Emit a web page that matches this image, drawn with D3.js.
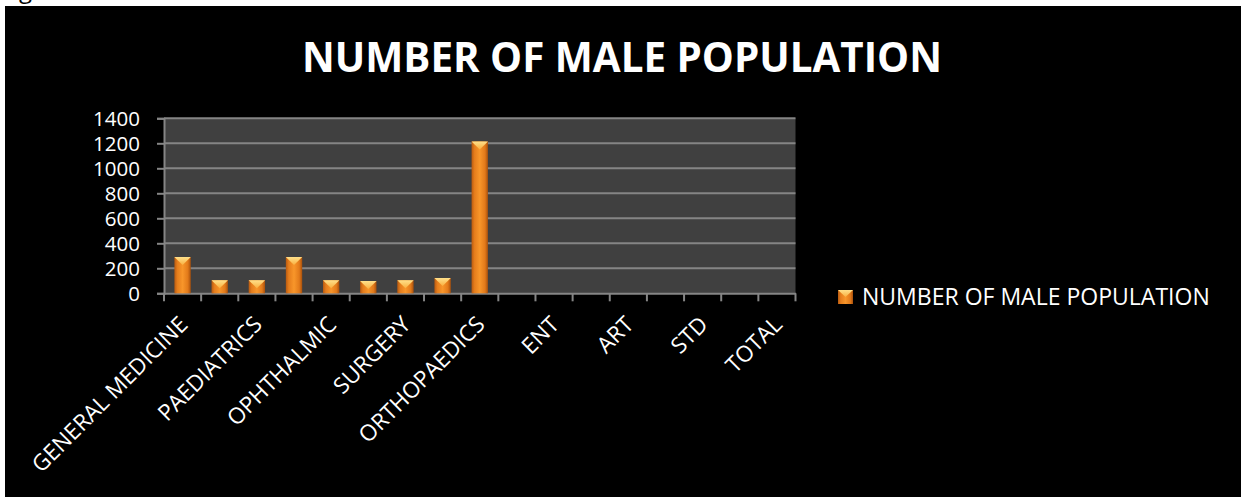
<!DOCTYPE html>
<html>
<head>
<meta charset="utf-8">
<script src="https://cdn.jsdelivr.net/npm/d3@7"></script>
<style>
  html, body { margin: 0; padding: 0; background: #fff; }
  svg { display: block; }
</style>
</head>
<body>
<svg id="chart" width="1241" height="497"></svg>
<script>
// Departments on the category axis (only every other label is printed on the axis)
const categories = [
  "GENERAL MEDICINE", "", "PAEDIATRICS", "", "OPHTHALMIC", "", "SURGERY", "",
  "ORTHOPAEDICS", "", "ENT", "", "ART", "", "STD", "", "TOTAL"
];
// Number of male patients per department
const maleCounts = [290, 105, 105, 290, 105, 98, 105, 122, 1215, 0, 0, 0, 0, 0, 0, 0, 0];
// Value axis ticks
const yTicks = [0, 200, 400, 600, 800, 1000, 1200, 1400];

const chartTitle = "NUMBER OF MALE POPULATION";
const seriesName = "NUMBER OF MALE POPULATION";

const W = 1241, H = 497;
const svg = d3.select("#chart");
const font = "'Open Sans', 'Liberation Sans', sans-serif";

// Page background with the dark chart area
svg.append("rect").attr("x", 0).attr("y", 0).attr("width", W).attr("height", H).attr("fill", "#fff");
svg.append("text").attr("x", 19).attr("y", -2).attr("font-family", font)
  .attr("font-size", 24).attr("fill", "#000").text("g");
svg.append("rect").attr("x", 5).attr("y", 6).attr("width", W - 5).attr("height", H - 6).attr("fill", "#000");

// Gradients for the bevelled bars
const defs = svg.append("defs");
const body = defs.append("linearGradient").attr("id", "barBody")
  .attr("x1", "0%").attr("x2", "100%").attr("y1", "0%").attr("y2", "0%");
[["0%", "#b85a10"], ["18%", "#e57d1c"], ["50%", "#f8962a"], ["82%", "#e27a1a"], ["100%", "#a8500c"]]
  .forEach(([o, c]) => body.append("stop").attr("offset", o).attr("stop-color", c));
const cap = defs.append("linearGradient").attr("id", "barCap")
  .attr("x1", "0%").attr("x2", "0%").attr("y1", "0%").attr("y2", "100%");
[["0%", "#ffe08a"], ["100%", "#f9b040"]]
  .forEach(([o, c]) => cap.append("stop").attr("offset", o).attr("stop-color", c));

const plot = { left: 164, right: 795.5, top: 118.3, bottom: 293.3 };

const x = d3.scaleBand()
  .domain(d3.range(categories.length))
  .range([plot.left, plot.right])
  .paddingInner(0).paddingOuter(0);

const y = d3.scaleLinear()
  .domain([0, 1400])
  .range([plot.bottom, plot.top]);

// Plot area
svg.append("rect")
  .attr("x", plot.left).attr("y", plot.top)
  .attr("width", plot.right - plot.left).attr("height", plot.bottom - plot.top)
  .attr("fill", "#404040");

// Horizontal gridlines
svg.append("g").selectAll("line").data(yTicks.filter(d => d > 0)).join("line")
  .attr("x1", plot.left).attr("x2", plot.right)
  .attr("y1", d => y(d)).attr("y2", d => y(d))
  .attr("stroke", "#858585").attr("stroke-width", 2);

// Value axis
const yAxis = svg.append("g")
  .attr("transform", `translate(${plot.left},0)`)
  .call(d3.axisLeft(y).tickValues(yTicks).tickSize(7).tickPadding(17).tickFormat(d3.format("d")));
yAxis.select(".domain").attr("stroke", "#858585").attr("stroke-width", 2);
yAxis.selectAll(".tick line").attr("stroke", "#858585").attr("stroke-width", 2);
yAxis.selectAll(".tick text").attr("fill", "#fff").attr("font-family", font).attr("font-size", 20.5)
  .attr("dy", "0.36em");

// Category axis
const xAxis = svg.append("g")
  .attr("transform", `translate(0,${plot.bottom})`)
  .call(d3.axisBottom(x).tickSize(0).tickFormat(""));
xAxis.select(".domain").attr("stroke", "#858585").attr("stroke-width", 2);
xAxis.selectAll(".tick").remove();
// Tick marks sit on the category boundaries
const bounds = d3.range(categories.length + 1).map(i => plot.left + i * x.step());
svg.append("g").selectAll("line").data(bounds).join("line")
  .attr("x1", d => d).attr("x2", d => d)
  .attr("y1", plot.bottom).attr("y2", plot.bottom + 8)
  .attr("stroke", "#858585").attr("stroke-width", 2);

// Rotated category labels
svg.append("g").selectAll("text")
  .data(categories.map((c, i) => ({ c, i })).filter(d => d.c !== ""))
  .join("text")
  .attr("transform", d => `translate(${x(d.i) + x.bandwidth() / 2 + 1},${plot.bottom + 27}) rotate(-45)`)
  .attr("text-anchor", "end")
  .attr("dy", "0.35em")
  .attr("fill", "#fff").attr("font-family", font).attr("font-size", 22.5)
  .text(d => d.c);

// Bars
const barW = x.bandwidth() * 0.44;
const capH = 6;
const bars = svg.append("g").selectAll("g").data(maleCounts.map((v, i) => ({ v, i })).filter(d => d.v > 0)).join("g");
bars.append("rect")
  .attr("x", d => x(d.i) + (x.bandwidth() - barW) / 2)
  .attr("y", d => y(d.v))
  .attr("width", barW)
  .attr("height", d => y(0) - y(d.v))
  .attr("fill", "url(#barBody)");
bars.append("path")
  .attr("d", d => {
    const x0 = x(d.i) + (x.bandwidth() - barW) / 2, x1 = x0 + barW, yt = y(d.v);
    return `M${x0},${yt}L${x1},${yt}L${x1 - 2},${yt + 2}L${(x0 + x1) / 2},${yt + capH + 2}L${x0 + 2},${yt + 2}Z`;
  })
  .attr("fill", "url(#barCap)");

// Title
const title = svg.append("text")
  .attr("x", 622).attr("y", 72)
  .attr("text-anchor", "middle")
  .attr("fill", "#fff").attr("font-family", font).attr("font-weight", "bold")
  .attr("font-size", 40)
  .text(chartTitle);
const tw = title.node().getComputedTextLength();
title.attr("font-size", 40 * 640 / tw);

// Legend
const lg = svg.append("g").attr("transform", "translate(838,290)");
lg.append("rect").attr("width", 15).attr("height", 14).attr("fill", "url(#barBody)");
lg.append("path").attr("d", "M0,0L15,0L7.5,7Z").attr("fill", "url(#barCap)");
const lt = lg.append("text")
  .attr("x", 24).attr("y", 15)
  .attr("fill", "#fff").attr("font-family", font).attr("font-size", 21)
  .text(seriesName);
const lw = lt.node().getComputedTextLength();
lt.attr("font-size", 21 * 348 / lw);
</script>
</body>
</html>
